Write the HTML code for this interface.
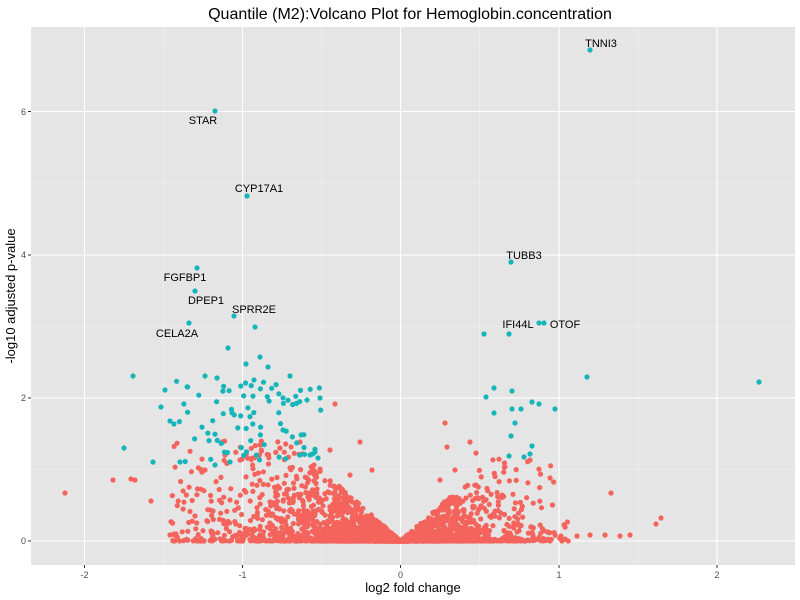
<!DOCTYPE html><html><head><style>body{margin:0;background:#fff}svg{display:block}text{font-family:"Liberation Sans",sans-serif}</style></head><body>
<svg id="s" width="800" height="600" xmlns="http://www.w3.org/2000/svg">
<rect x="31" y="27" width="764" height="538" fill="#e5e5e5"/>
<g stroke="#f2f2f2" stroke-width="0.6">
<line x1="31" x2="795" y1="469.5" y2="469.5"/><line x1="31" x2="795" y1="326.5" y2="326.5"/><line x1="31" x2="795" y1="183" y2="183"/><line x1="31" x2="795" y1="40" y2="40"/>
<line y1="27" y2="565" x1="163.5" x2="163.5"/><line y1="27" y2="565" x1="321.5" x2="321.5"/><line y1="27" y2="565" x1="479.5" x2="479.5"/><line y1="27" y2="565" x1="638" x2="638"/>
</g>
<g stroke="#fff" stroke-width="1.1">
<line x1="31" x2="795" y1="541" y2="541"/><line x1="31" x2="795" y1="398" y2="398"/><line x1="31" x2="795" y1="255" y2="255"/><line x1="31" x2="795" y1="111.5" y2="111.5"/>
<line y1="27" y2="565" x1="84.5" x2="84.5"/><line y1="27" y2="565" x1="242.5" x2="242.5"/><line y1="27" y2="565" x1="400.5" x2="400.5"/><line y1="27" y2="565" x1="559" x2="559"/><line y1="27" y2="565" x1="717" x2="717"/>
</g>
<g id="pts"></g>
<g stroke="#333" stroke-width="1"><line x1="28" x2="31" y1="541" y2="541"/><line x1="28" x2="31" y1="398" y2="398"/><line x1="28" x2="31" y1="255" y2="255"/><line x1="28" x2="31" y1="111.5" y2="111.5"/>
<line y1="565" y2="568" x1="84.5" x2="84.5"/><line y1="565" y2="568" x1="242.5" x2="242.5"/><line y1="565" y2="568" x1="400.5" x2="400.5"/><line y1="565" y2="568" x1="559" x2="559"/><line y1="565" y2="568" x1="717" x2="717"/></g>
<g font-size="9" fill="#4d4d4d"><g text-anchor="end"><text x="26" y="544">0</text><text x="26" y="401">2</text><text x="26" y="258">4</text><text x="26" y="115">6</text></g>
<g text-anchor="middle"><text x="84.5" y="578">-2</text><text x="242.5" y="578">-1</text><text x="400.5" y="578">0</text><text x="559" y="578">1</text><text x="717" y="578">2</text></g></g>
<text x="413" y="592" font-size="13" text-anchor="middle">log2 fold change</text>
<text transform="translate(15,296) rotate(-90)" font-size="13" text-anchor="middle">-log10 adjusted p-value</text>
<text x="410" y="19" font-size="16" text-anchor="middle">Quantile (M2):Volcano Plot for Hemoglobin.concentration</text>
<g font-size="11" text-anchor="middle" id="lab">
<text x="203" y="124">STAR</text><text x="259" y="192">CYP17A1</text><text x="185" y="281">FGFBP1</text><text x="206" y="304">DPEP1</text><text x="254" y="313">SPRR2E</text><text x="177" y="337">CELA2A</text><text x="601" y="47">TNNI3</text><text x="524" y="259">TUBB3</text><text x="518" y="328">IFI44L</text><text x="565" y="328">OTOF</text></g>
</svg>
<script>
var g=document.getElementById('pts'),h='';var seed=11;function r(){seed=(seed*16807)%2147483647;return seed/2147483647}
function c(x,y,col){h+='<circle cx="'+x.toFixed(1)+'" cy="'+y.toFixed(1)+'" r="2.6" fill="'+col+'"/>'}
var R='#f4645c',T='#16b5b9';
for(var i=0;i<3000;i++){var left=r()<0.62;var d=-Math.log(1-r()*0.999)*(left?65:48);var maxd=left?230:170;if(d>maxd)d=r()*maxd;
var env=Math.min(d*0.9,left?100:85);var hh=env*Math.pow(r(),3);c(400.5+(left?-d:d),541-hh,R)}
[[65,493],[113,480],[131,479],[135,480],[151,501],[174,534],[176,534],[170,535],[611,493],[656,524],[661,518],[630,535],[620,536],[605,535],[590,535],[577,536],[561,536],[445,423],[470,442],[447,447],[476,453],[335,404],[195,516],[230,500],[210,510],[205,470],[225,455],[240,460],[260,445],[280,448],[300,442],[330,450],[360,442],[372,470],[350,475],[320,470],[290,468],[440,480],[455,470]].forEach(function(p){c(p[0],p[1],R)});
for(i=0;i<85;i++){var x=175+Math.pow(r(),0.8)*150,y=380+r()*82;if(x>300&&y<420&&r()<0.6)continue;c(x,y,T)}
[[215,111],[247,196],[197,268],[195,291],[234,316],[189,323],[590,50],[511,262],[509,334],[539,323],[544,323],[484,334],[255,327],[228,348],[260,357],[246,364],[268,367],[254,380],[290,376],[133,376],[165,390],[205,376],[217,378],[587,377],[759,382],[494,388],[512,391],[486,397],[494,413],[512,409],[521,409],[532,402],[539,404],[555,409],[515,423],[511,436],[532,446],[509,456],[524,457],[530,454],[320,398],[161,407],[170,421],[174,424],[124,448],[153,462],[180,462],[307,400],[283,430],[300,455],[310,455],[318,458],[230,462],[215,465]].forEach(function(p){c(p[0],p[1],T)});
g.innerHTML=h;
</script>
</body></html>
